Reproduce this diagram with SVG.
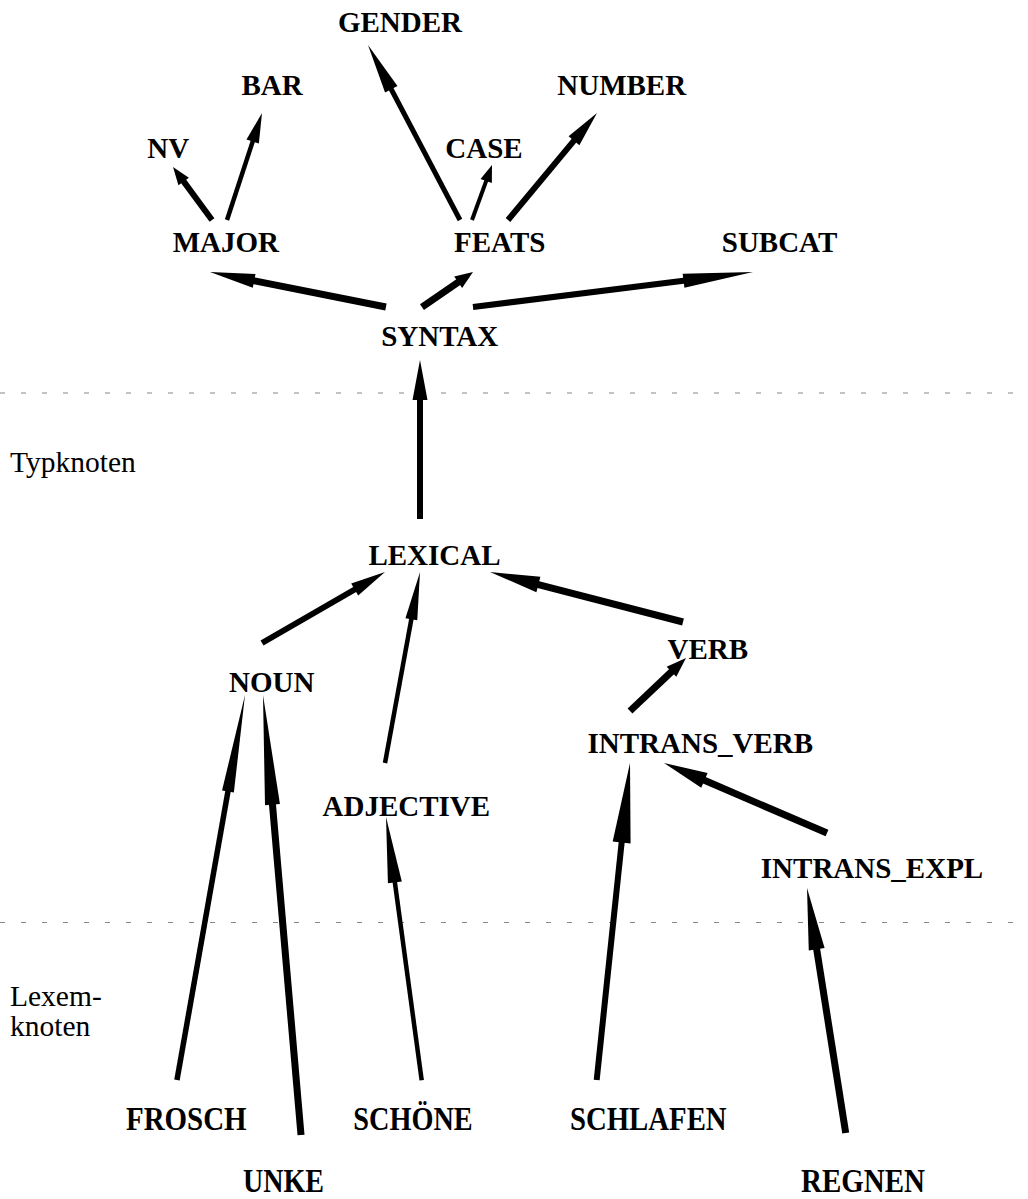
<svg xmlns="http://www.w3.org/2000/svg" width="1028" height="1199" viewBox="0 0 1028 1199">
<style>
.n{font-family:"Liberation Serif","Times New Roman",serif;font-weight:bold;font-size:29px;text-anchor:middle;fill:#000}
.b{font-family:"Liberation Serif","Times New Roman",serif;font-weight:bold;font-size:33.5px;text-anchor:middle;fill:#000}
.lbl{font-family:"Liberation Serif","Times New Roman",serif;font-size:29.5px;fill:#000}
.sep{stroke:#888;stroke-width:1.2;stroke-dasharray:5 16;fill:none}
.arrow line{stroke:#000;stroke-linecap:butt}
.arrow polygon{fill:#000;stroke:none}
</style>
<rect width="1028" height="1199" fill="#fff"/>
<g id="separators">
<line class="sep" x1="0" y1="393" x2="1028" y2="393"/>
<line class="sep" x1="0" y1="922.5" x2="1028" y2="922.5"/>
</g>
<g id="connectors">
<g class="arrow" transform="translate(173,167) rotate(53.65)"><line x1="16" y1="0" x2="65.8" y2="0" stroke-width="6"/><polygon points="0,0 18,-6.5 18,6.5"/></g>
<g class="arrow" transform="translate(262,113) rotate(108.11)"><line x1="28" y1="0" x2="112.6" y2="0" stroke-width="4.5"/><polygon points="0,0 30,-6.5 30,6.5"/></g>
<g class="arrow" transform="translate(368,45) rotate(62.27)"><line x1="48" y1="0" x2="197.7" y2="0" stroke-width="5"/><polygon points="0,0 50,-7 50,7"/></g>
<g class="arrow" transform="translate(492,165) rotate(109.98)"><line x1="15" y1="0" x2="58.5" y2="0" stroke-width="4"/><polygon points="0,0 17,-6 17,6"/></g>
<g class="arrow" transform="translate(597,113) rotate(129.75)"><line x1="34" y1="0" x2="139.2" y2="0" stroke-width="6"/><polygon points="0,0 36,-7 36,7"/></g>
<g class="arrow" transform="translate(210,272) rotate(11.25)"><line x1="43" y1="0" x2="179.4" y2="0" stroke-width="7"/><polygon points="0,0 45,-7 45,7"/></g>
<g class="arrow" transform="translate(473,272) rotate(145.54)"><line x1="16" y1="0" x2="61.9" y2="0" stroke-width="7"/><polygon points="0,0 18,-7 18,7"/></g>
<g class="arrow" transform="translate(753,272) rotate(172.875)"><line x1="68" y1="0" x2="282.2" y2="0" stroke-width="6"/><polygon points="0,0 70,-7 70,7"/></g>
<g class="arrow" transform="translate(420,360) rotate(90)"><line x1="38" y1="0" x2="159" y2="0" stroke-width="6"/><polygon points="0,0 40,-7.5 40,7.5"/></g>
<g class="arrow" transform="translate(385,572) rotate(150)"><line x1="33" y1="0" x2="142" y2="0" stroke-width="6"/><polygon points="0,0 35,-7 35,7"/></g>
<g class="arrow" transform="translate(420,572) rotate(100.38)"><line x1="46" y1="0" x2="194.2" y2="0" stroke-width="4.5"/><polygon points="0,0 48,-6 48,6"/></g>
<g class="arrow" transform="translate(490,572) rotate(14.52)"><line x1="48" y1="0" x2="199.4" y2="0" stroke-width="7"/><polygon points="0,0 50,-8 50,8"/></g>
<g class="arrow" transform="translate(686,658) rotate(136.58)"><line x1="18" y1="0" x2="77.1" y2="0" stroke-width="7"/><polygon points="0,0 20,-7 20,7"/></g>
<g class="arrow" transform="translate(664,763) rotate(23.24)"><line x1="42" y1="0" x2="177.4" y2="0" stroke-width="7"/><polygon points="0,0 44,-8 44,8"/></g>
<g class="arrow" transform="translate(245,695) rotate(100.02)"><line x1="96" y1="0" x2="391" y2="0" stroke-width="5.5"/><polygon points="0,0 98,-6 98,6"/></g>
<g class="arrow" transform="translate(263,695) rotate(85.06)"><line x1="108" y1="0" x2="441.6" y2="0" stroke-width="7"/><polygon points="0,0 110,-7.5 110,7.5"/></g>
<g class="arrow" transform="translate(386,817) rotate(82.28)"><line x1="64" y1="0" x2="265.7" y2="0" stroke-width="4.5"/><polygon points="0,0 66,-7 66,7"/></g>
<g class="arrow" transform="translate(630,763) rotate(96)"><line x1="78" y1="0" x2="318.7" y2="0" stroke-width="6"/><polygon points="0,0 80,-9 80,9"/></g>
<g class="arrow" transform="translate(807,888) rotate(81.02)"><line x1="60" y1="0" x2="248" y2="0" stroke-width="7"/><polygon points="0,0 62,-8 62,8"/></g>
</g>
<g id="node-gender"><text class="n" x="400" y="32">GENDER</text></g>
<g id="node-bar"><text class="n" x="272" y="95">BAR</text></g>
<g id="node-number"><text class="n" x="621.7" y="95">NUMBER</text></g>
<g id="node-nv"><text class="n" x="168.3" y="158">NV</text></g>
<g id="node-case"><text class="n" x="484" y="158">CASE</text></g>
<g id="node-major"><text class="n" x="225.8" y="252">MAJOR</text></g>
<g id="node-feats"><text class="n" x="499.7" y="252">FEATS</text></g>
<g id="node-subcat"><text class="n" x="779.5" y="252">SUBCAT</text></g>
<g id="node-syntax"><text class="n" x="439.7" y="346">SYNTAX</text></g>
<g id="label-typknoten"><text class="lbl" x="10" y="472">Typknoten</text></g>
<g id="node-lexical"><text class="n" x="434.5" y="565">LEXICAL</text></g>
<g id="node-verb"><text class="n" x="707.8" y="659">VERB</text></g>
<g id="node-noun"><text class="n" x="271.7" y="692">NOUN</text></g>
<g id="node-intrans-verb"><text class="n" x="700.3" y="753">INTRANS_VERB</text></g>
<g id="node-adjective"><text class="n" x="406.3" y="816">ADJECTIVE</text></g>
<g id="node-intrans-expl"><text class="n" x="872" y="878">INTRANS_EXPL</text></g>
<g id="label-lexemknoten"><text class="lbl" x="10" y="1006">Lexem-</text><text class="lbl" x="10" y="1036">knoten</text></g>
<g id="node-frosch"><text class="b" x="186.3" y="1130" textLength="120.7" lengthAdjust="spacingAndGlyphs">FROSCH</text></g>
<g id="node-schoene"><text class="b" x="413" y="1130" textLength="119.4" lengthAdjust="spacingAndGlyphs">SCHÖNE</text></g>
<g id="node-schlafen"><text class="b" x="648.3" y="1130" textLength="156.7" lengthAdjust="spacingAndGlyphs">SCHLAFEN</text></g>
<g id="node-unke"><text class="b" x="283.5" y="1192" textLength="81" lengthAdjust="spacingAndGlyphs">UNKE</text></g>
<g id="node-regnen"><text class="b" x="863" y="1192" textLength="124" lengthAdjust="spacingAndGlyphs">REGNEN</text></g>
</svg>
